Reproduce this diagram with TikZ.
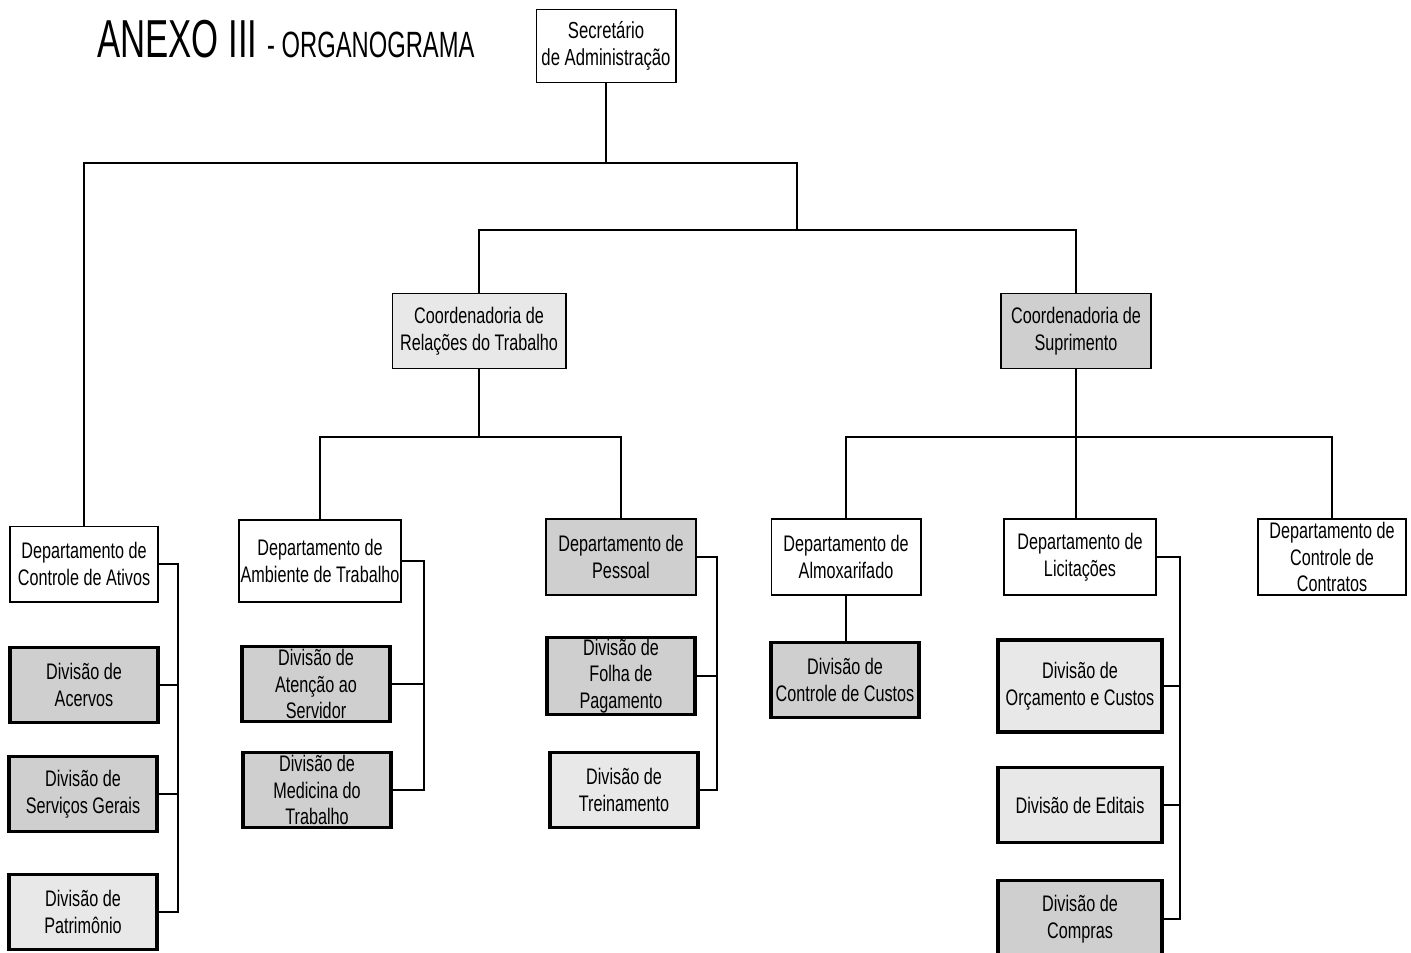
\documentclass[tikz,border=0pt]{standalone}
\usepackage{fontspec}
\setmainfont{Liberation Sans}[FakeStretch=0.72]
\newfontfamily\titlefont{Liberation Sans}[FakeStretch=0.65]
\begin{document}
\begin{tikzpicture}[x=0.025cm, y=-0.025cm,
    box/.style   = {draw, line width=1.4pt, align=center, inner sep=1pt,
                    font=\fontsize{16}{19}\selectfont},
    dept/.style  = {box, minimum width=3.75cm, minimum height=1.9cm},
    div/.style   = {box, line width=2.2pt, minimum width=3.7cm, minimum height=1.875cm},
    dark/.style  = {fill=gray!38},
    light/.style = {fill=gray!18},
    link/.style  = {line width=1.2pt}]
    \useasboundingbox (0,0) rectangle (1411,952);
    \clip (0,0) rectangle (1411,952);

    % title
    \node[anchor=base west, inner sep=0pt] (ttl) at (97,58)
        {\titlefont\fontsize{38}{38}\selectfont ANEXO III {\fontsize{26}{26}\selectfont - ORGANOGRAMA}};

    % top levels
    \node[box, minimum width=3.475cm, minimum height=1.825cm, font=\fontsize{16.5}{19}\selectfont]
        (sec) at (606,46) {Secret\'ario\\de Administra\c{c}\~ao};
    \node[box, light, minimum width=4.325cm, minimum height=1.875cm] (crt) at (479,331)
        {Coordenadoria de\\Rela\c{c}\~oes do Trabalho};
    \node[box, dark, minimum width=3.75cm, minimum height=1.875cm] (csp) at (1076,331)
        {Coordenadoria de\\Suprimento};

    % departments
    \node[dept, minimum width=3.675cm, minimum height=1.875cm] (dca) at (84,564) {Departamento de\\Controle de Ativos};
    \node[dept, minimum width=4cm, minimum height=2.05cm] (dat) at (320,561) {Departamento de\\Ambiente de Trabalho};
    \node[dept, dark] (dps) at (621,557) {Departamento de\\Pessoal};
    \node[dept, minimum width=3.725cm] (dal) at (846,557) {Departamento de\\Almoxarifado};
    \node[dept, minimum width=3.8cm] (dli) at (1080,557) {Departamento de\\Licita\c{c}\~oes};
    \node[dept, minimum width=3.7cm] (dcc) at (1332,557) {Departamento de\\Controle de\\Contratos};

    % divisions
    \node[div, dark]  (dac) at (84,685)   {Divis\~ao de\\Acervos};
    \node[div, dark]  (dsg) at (83,794)   {Divis\~ao de\\Servi\c{c}os Gerais};
    \node[div, light] (dpa) at (83,912)   {Divis\~ao de\\Patrim\^onio};
    \node[div, dark]  (das) at (316,684)  {Divis\~ao de\\Aten\c{c}\~ao ao\\Servidor};
    \node[div, dark]  (dmt) at (317,790)  {Divis\~ao de\\Medicina do\\Trabalho};
    \node[div, dark]  (dfp) at (621,676)  {Divis\~ao de\\Folha de\\Pagamento};
    \node[div, light] (dtr) at (624,790)  {Divis\~ao de\\Treinamento};
    \node[div, dark]  (dcu) at (845,680)  {Divis\~ao de\\Controle de Custos};
    \node[div, light, minimum width=4.1cm, minimum height=2.3cm] (doc) at (1080,686) {Divis\~ao de\\Or\c{c}amento e Custos};
    \node[div, light, minimum width=4.1cm] (ded) at (1080,805) {Divis\~ao de Editais};
    \node[div, dark, minimum width=4.1cm, minimum height=1.925cm] (dco) at (1080,919) {Divis\~ao de\\Compras};

    % tree lines
    \coordinate (k1) at (797,163);
    \coordinate (k2) at (797,230);
    \coordinate (b3) at (0,437);
    \draw[link] (sec.south) -- (sec.south |- k1);
    \draw[link] (dca.north) |- (k1) -- (k2);
    \draw[link] (crt.north) |- (k2) -| (csp.north);
    \draw[link] (crt.south) -- (crt.south |- b3);
    \draw[link] (dat.north) |- (b3 -| crt.south) -| (dps.north);
    \draw[link] (csp.south) -- (csp.south |- dli.north);
    \draw[link] (dal.north) |- (b3 -| csp.south) -| (dcc.north);
    \draw[link] (dal.south) -- (dal.south |- dcu.north);

    % side brackets
    \coordinate (r1) at (178,0);
    \coordinate (r2) at (424,0);
    \coordinate (r3) at (717,0);
    \coordinate (r4) at (1180,0);
    \draw[link] (dca.east) -- (dca.east -| r1) |- (dpa.east);
    \foreach \n in {dac,dsg} \draw[link] (\n.east) -- (\n.east -| r1);
    \draw[link] (dat.east) -- (dat.east -| r2) |- (dmt.east);
    \draw[link] (das.east) -- (das.east -| r2);
    \draw[link] (dps.east) -- (dps.east -| r3) |- (dtr.east);
    \draw[link] (dfp.east) -- (dfp.east -| r3);
    \draw[link] (dli.east) -- (dli.east -| r4) |- (dco.east);
    \foreach \n in {doc,ded} \draw[link] (\n.east) -- (\n.east -| r4);

\end{tikzpicture}
\end{document}
